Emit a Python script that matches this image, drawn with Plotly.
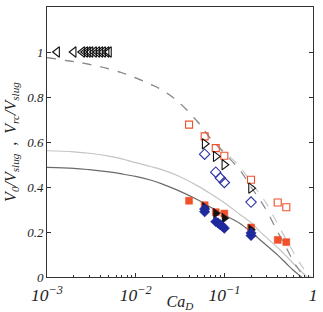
import plotly.graph_objects as go

# --- data ---
tri_left_x = [0.0013, 0.002, 0.0025, 0.0027, 0.0029, 0.0031, 0.0034, 0.0037, 0.004, 0.0043, 0.0047, 0.005]
tri_left_y = [1, 1, 1, 1, 1, 1, 1, 1, 1, 1, 1, 1]

sq_open_x = [0.04, 0.06, 0.08, 0.1, 0.2, 0.4, 0.5]
sq_open_y = [0.677, 0.625, 0.573, 0.539, 0.432, 0.331, 0.31]

tri_open_x = [0.06, 0.08, 0.1, 0.2]
tri_open_y = [0.592, 0.536, 0.499, 0.395]

dia_open_x = [0.06, 0.08, 0.09, 0.1, 0.2]
dia_open_y = [0.546, 0.466, 0.44, 0.42, 0.333]

sq_fill_x = [0.04, 0.06, 0.08, 0.1, 0.2, 0.4, 0.5]
sq_fill_y = [0.339, 0.319, 0.288, 0.282, 0.22, 0.165, 0.155]

tri_fill_x = [0.06, 0.08, 0.1, 0.2]
tri_fill_y = [0.31, 0.283, 0.261, 0.21]

dia_fill_x = [0.06, 0.06, 0.08, 0.085, 0.09, 0.095, 0.1, 0.2, 0.2]
dia_fill_y = [0.29, 0.302, 0.246, 0.24, 0.232, 0.225, 0.217, 0.184, 0.196]

curve_x = [0.001, 0.002, 0.003, 0.005, 0.007, 0.01, 0.015, 0.02, 0.03, 0.05, 0.07, 0.1, 0.15, 0.2,
           0.25, 0.3, 0.4, 0.5, 0.6, 0.7, 0.8, 0.9, 1.0]
solid_dark_y = [0.487, 0.483, 0.477, 0.467, 0.458, 0.447, 0.43, 0.413, 0.385, 0.343, 0.31, 0.275, 0.238, 0.2,
                0.167, 0.14, 0.097, 0.06, 0.03, 0.008, -0.012, -0.04, -0.065]
solid_light_y = [0.561, 0.556, 0.55, 0.537, 0.525, 0.508, 0.49, 0.476, 0.45, 0.405, 0.37, 0.33, 0.278, 0.242,
                 0.203, 0.175, 0.13, 0.093, 0.06, 0.033, 0.011, -0.01, -0.03]
dash_dark_y = [0.975, 0.957, 0.945, 0.925, 0.908, 0.885, 0.855, 0.83, 0.78, 0.69, 0.615, 0.55, 0.475, 0.4,
               0.345, 0.295, 0.2, 0.13, 0.07, 0.03, -0.005, -0.035, -0.06]
dash_light_y = [0.975, 0.957, 0.945, 0.925, 0.908, 0.885, 0.855, 0.83, 0.78, 0.69, 0.617, 0.557, 0.49, 0.42,
                0.37, 0.325, 0.235, 0.165, 0.11, 0.065, 0.033, 0.01, -0.01]

RED = "#f0502a"
BLUE = "#2a30a8"
BLUE_F = "#1e2a9c"
BLACK = "#111111"

fig = go.Figure()

def line(y, color, dash):
    fig.add_trace(go.Scatter(x=curve_x, y=y, mode="lines",
                             line=dict(color=color, width=1.2, dash=dash, shape="spline", smoothing=1),
                             showlegend=False, hoverinfo="skip"))

line(solid_light_y, "#c4c4c4", "solid")
line(solid_dark_y, "#6a6a6a", "solid")
line(dash_light_y, "#c8c8c8", "dash")
line(dash_dark_y, "#8a8a8a", "dash")

def pts(x, y, symbol, color, size, filled):
    if filled:
        m = dict(symbol=symbol, color=color, size=size, line=dict(color=color, width=0.5))
    else:
        m = dict(symbol=symbol + "-open", color=color, size=size, line=dict(color=color, width=1.1))
    fig.add_trace(go.Scatter(x=x, y=y, mode="markers", marker=m, showlegend=False))

pts(tri_left_x, tri_left_y, "triangle-left", BLACK, 9, False)
pts(sq_open_x, sq_open_y, "square", RED, 7, False)
pts(tri_open_x, tri_open_y, "triangle-right", BLACK, 9, False)
pts(dia_open_x, dia_open_y, "diamond", BLUE, 8, False)
pts(sq_fill_x, sq_fill_y, "square", RED, 7, True)
pts(tri_fill_x, tri_fill_y, "triangle-right", BLACK, 9, True)
pts(dia_fill_x, dia_fill_y, "diamond", BLUE_F, 8, True)

serif = "Liberation Serif, Times New Roman, serif"
yfont = dict(family=serif, size=13, color="#222", style="italic")
xfont = dict(family=serif, size=14, color="#222", style="italic")

fig.update_layout(
    width=323, height=312,
    margin=dict(l=47, r=10, t=7, b=35),
    paper_bgcolor="white", plot_bgcolor="white",
    xaxis=dict(type="log", range=[-3, 0], showline=True, linecolor="#333", linewidth=1,
               mirror=True, ticks="inside", ticklen=4, tickcolor="#333", automargin=False,
               showgrid=False, zeroline=False, dtick=1, exponentformat="power",
               tickfont=xfont, ticklabelstandoff=3,
               minor=dict(ticks="inside", ticklen=2, tickcolor="#333", dtick="D1", showgrid=False),
               title=dict(text="<i>Ca<sub>D</sub></i>", font=dict(family=serif, size=16, color="#222"), standoff=8)),
    yaxis=dict(range=[0, 1.2], showline=True, linecolor="#333", linewidth=1,
               mirror="ticks", ticks="inside", ticklen=4, tickcolor="#333", automargin=False,
               showgrid=False, zeroline=False, tickvals=[0, 0.2, 0.4, 0.6, 0.8, 1],
               ticktext=["0", "0.2", "0.4", "0.6", "0.8", "1"],
               tickfont=yfont,
               title=dict(text="<i>V<sub>0</sub>/V<sub>slug</sub></i>  ,  <i>V<sub>rc</sub>/V<sub>slug</sub></i>",
                          font=dict(family=serif, size=16, color="#222"), standoff=6)),
)

fig.write_html("out.html")
